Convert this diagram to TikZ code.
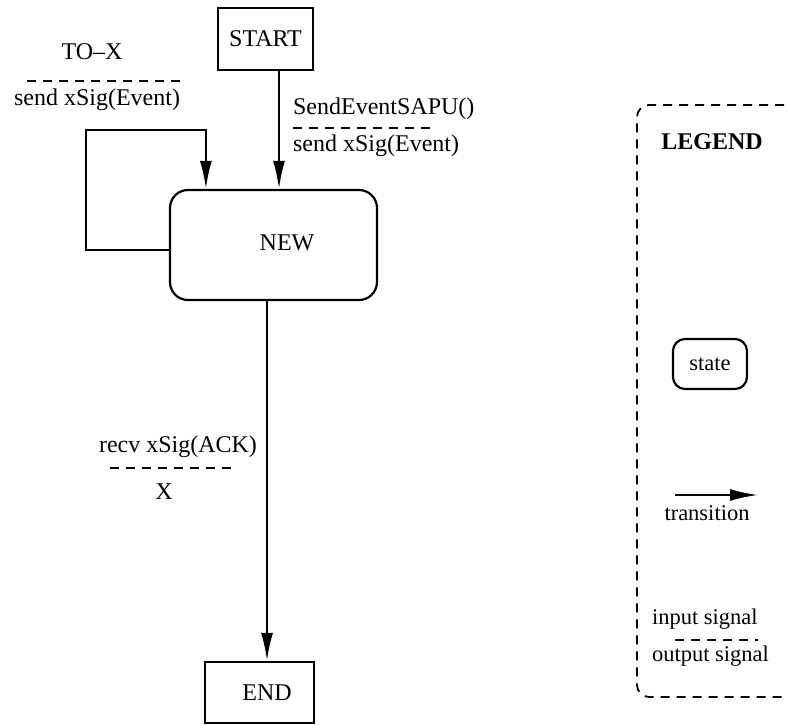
\documentclass[tikz,border=0pt]{standalone}
\usepackage{fontspec}
\setmainfont{Liberation Serif}
\usetikzlibrary{arrows.meta}
\begin{document}
\begin{tikzpicture}[x=1pt,y=-1pt,
  line width=2.2pt,
  lbl/.style={font=\fontsize{24}{28}\selectfont, inner sep=0pt},
  small/.style={lbl, font=\fontsize{22.5}{26}\selectfont},
  boxnode/.style={draw, lbl, inner sep=0pt},
  statenode/.style={draw, lbl, rounded corners=18pt, inner sep=0pt},
  arr/.style={-{Latex[length=28pt,width=12pt]}},
  sig/.style={line width=1.8pt, dash pattern=on 9pt off 7pt}]
\useasboundingbox (0,0) rectangle (788,725);

% states
\node[boxnode, minimum width=95pt, minimum height=62pt] (start) at (265.5,39) {START};
\node[statenode, minimum width=207pt, minimum height=110pt] (new) at (273.5,245) {};
\node[lbl] (newtext) at (287,243) {NEW};
\node[boxnode, minimum width=109pt, minimum height=61pt] (end) at (259.5,692.5) {};
\node[lbl] (endtext) at (267,693) {END};

% transitions
\draw[arr] ([xshift=13.5pt]start.south) -- ([xshift=13.5pt]start.south |- new.north);
\coordinate (loopcorner) at (86,130);
\draw[arr] ([yshift=-5pt]new.west) -| (loopcorner) -| ([xshift=37pt]new.north west);
\draw[arr] ([xshift=-6.5pt]new.south) -- ([xshift=-6.5pt]new.south |- end.north);

% transition labels
\node[lbl] (tox) at (92,52) {TO--X};
\draw[sig] (27,81) -- (182,81);
\node[lbl] (tox2) at (97,100) {send xSig(Event)};

\node[lbl, anchor=west] (sapu) at (292,109) {SendEventSAPU()};
\draw[sig] (293,128) -- (437,128);
\node[lbl, anchor=west] (sapu2) at (292,146) {send xSig(Event)};

\node[lbl] (recv) at (178,447) {recv xSig(ACK)};
\draw[sig] (110,468) -- (237,468);
\node[lbl] (xout) at (164,492) {X};

% legend
\draw[sig, rounded corners=12pt] (800,105) -- (637,105) -- (637,697) -- (800,697);
\node[lbl, font=\fontsize{24}{28}\selectfont\bfseries] (legend) at (712,142) {LEGEND};
\node[statenode, small, rounded corners=12pt, minimum width=74pt, minimum height=50pt] (lstate) at (710,364) {state};
\coordinate (ltA) at (675,495);
\coordinate (ltB) at (758,495);
\draw[arr] (ltA) -- (ltB);
\node[small] (ltrans) at (707,513) {transition};
\node[small, anchor=west] (lin) at (651,619) {input signal};
\draw[sig] (675,640) -- (758,640);
\node[small, anchor=west] (lout) at (651,656) {output signal};
\end{tikzpicture}
\end{document}
